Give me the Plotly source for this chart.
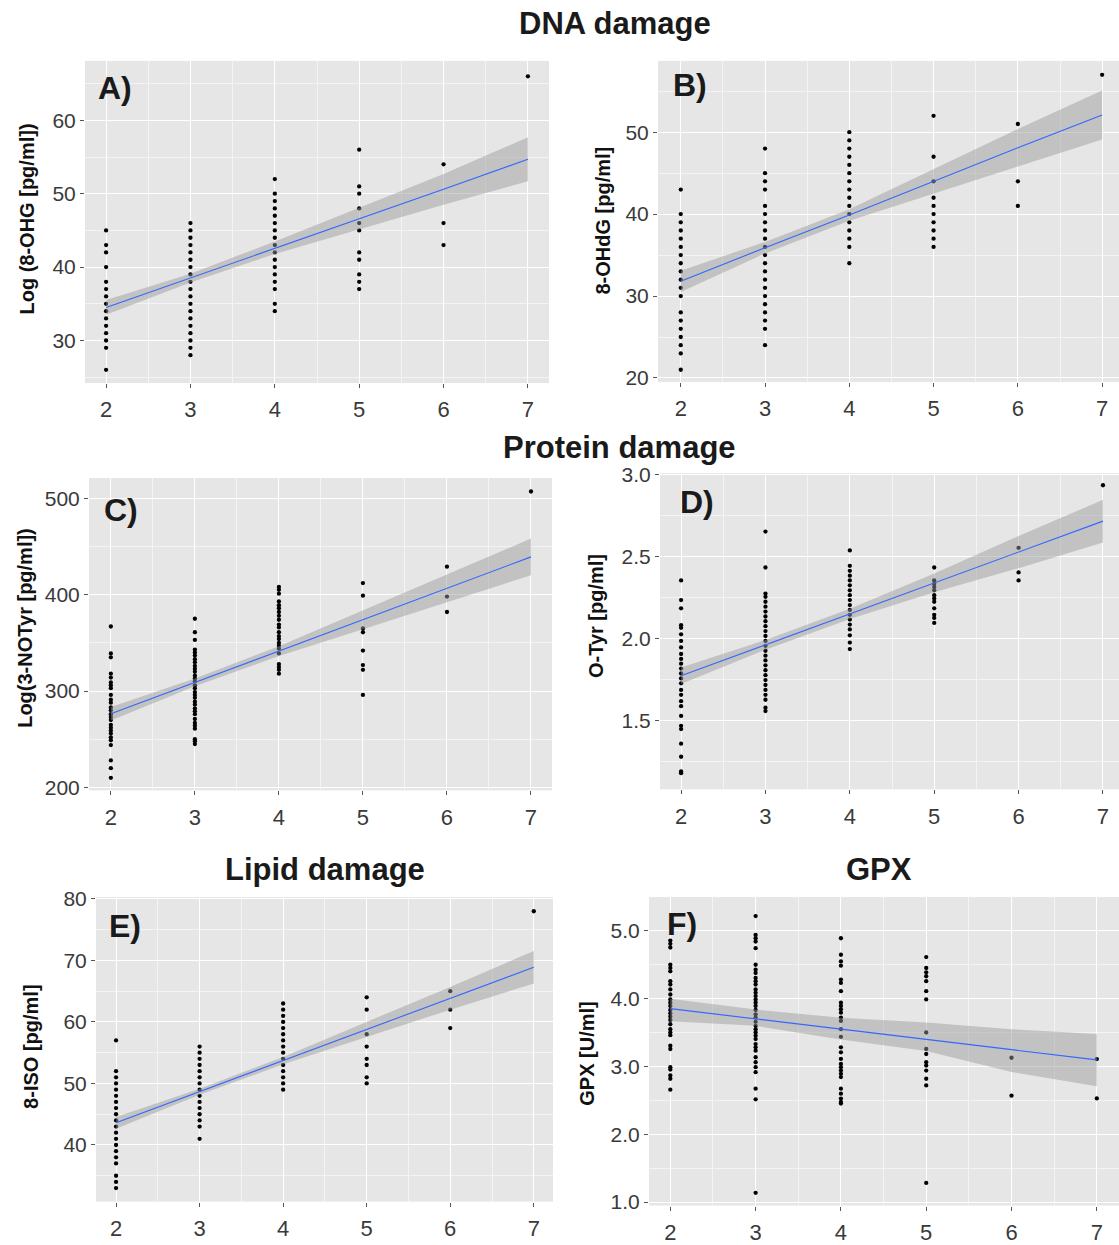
import plotly.graph_objects as go

W, H = 1119, 1245

fit_x = [2, 3, 4, 5, 6, 7]

# ---------------- Panel A: Log (8-OHG [pg/ml]) ----------------
a2 = [45, 43, 42, 40, 38, 37, 36, 35, 34, 33, 32, 31, 30, 29, 26]
a3 = [46, 45, 44, 43, 42, 41, 40, 39, 38, 37, 36, 35, 34, 33, 32, 31, 30, 29, 28]
a4 = [52, 50, 49, 48, 47, 46, 45, 44, 43, 42, 41, 40, 39, 38, 37, 35, 34]
a5 = [56, 51, 50, 48, 46, 45, 42, 41, 39, 38, 37]
a6 = [54, 46, 43]
a7 = [66]
a_fit = [34.5, 38.5, 42.6, 46.6, 50.6, 54.7]
a_lo = [33.5, 37.9, 41.8, 45.1, 48.5, 51.7]
a_hi = [35.5, 39.1, 43.5, 48.1, 52.7, 57.7]

# ---------------- Panel B: 8-OHdG [pg/ml] ----------------
b2 = [43, 40, 39, 38, 37, 36, 35, 34, 33, 32, 31, 30, 28, 27, 26, 25, 24, 23, 21]
b3 = [48, 45, 44, 43, 41, 40, 39, 38, 37, 36, 35, 34, 33, 32, 31, 30, 29, 28, 27, 26, 24]
b4 = [50, 49, 48, 47, 46, 45, 44, 43, 42, 41, 40, 39, 38, 37, 36, 34]
b5 = [52, 47, 44, 42, 41, 40, 39, 38, 37, 36]
b6 = [51, 44, 41]
b7 = [57]
b_fit = [31.8, 35.9, 39.9, 44.0, 48.1, 52.1]
b_lo = [30.5, 35.2, 39.2, 42.5, 45.8, 49.1]
b_hi = [33.1, 36.6, 40.6, 45.5, 50.4, 55.1]

# ---------------- Panel C: Log(3-NOTyr [pg/ml]) ----------------
c2 = [367, 339, 335, 318, 314, 309, 306, 303, 296, 291, 288, 283, 280, 276, 273,
      270, 265, 262, 259, 256, 252, 249, 244, 228, 220, 210]
c3 = [375, 361, 353, 343, 340, 337, 333, 330, 326, 323, 320, 316, 313, 310, 306,
      303, 299, 296, 293, 289, 286, 282, 279, 276, 271, 267, 264, 261, 250, 248, 245]
c4 = [408, 405, 401, 393, 389, 386, 382, 378, 374, 369, 366, 361, 357, 354, 350,
      347, 344, 339, 328, 325, 322, 318]
c5 = [412, 399, 365, 361, 342, 327, 322, 296]
c6 = [429, 398, 382]
c7 = [507]
c_fit = [276.4, 309.0, 341.5, 374.0, 406.6, 439.2]
c_lo = [269.4, 305.0, 336.5, 364.0, 392.0, 420.2]
c_hi = [283.4, 313.0, 346.5, 384.0, 421.0, 458.2]

# ---------------- Panel D: O-Tyr [pg/ml] ----------------
d2 = [2.355, 2.235, 2.185, 2.082, 2.066, 2.026, 1.986, 1.946, 1.906, 1.876, 1.847,
      1.817, 1.787, 1.757, 1.727, 1.687, 1.657, 1.618, 1.588, 1.528, 1.468, 1.448,
      1.359, 1.279, 1.189, 1.179]
d3 = [2.653, 2.434, 2.275, 2.255, 2.225, 2.195, 2.165, 2.135, 2.106, 2.076, 2.046,
      2.016, 1.986, 1.956, 1.926, 1.896, 1.867, 1.837, 1.807, 1.777, 1.747, 1.717,
      1.687, 1.657, 1.627, 1.578, 1.558]
d4 = [2.538, 2.444, 2.414, 2.384, 2.355, 2.325, 2.295, 2.265, 2.235, 2.205, 2.175,
      2.145, 2.116, 2.086, 2.056, 2.020, 1.976, 1.936]
d5 = [2.434, 2.355, 2.335, 2.315, 2.295, 2.265, 2.245, 2.225, 2.185, 2.145, 2.126, 2.096]
d6 = [2.554, 2.404, 2.355]
d7 = [2.936]
d_fit = [1.773, 1.962, 2.151, 2.340, 2.528, 2.717]
d_lo = [1.723, 1.932, 2.120, 2.283, 2.430, 2.587]
d_hi = [1.823, 1.992, 2.182, 2.397, 2.626, 2.847]

# ---------------- Panel E: 8-ISO [pg/ml] ----------------
e2 = [57, 52, 51, 50, 49, 48, 47, 46, 45, 44, 43, 42, 41, 40, 39, 38, 37, 35, 34, 33]
e3 = [56, 55, 54, 53, 52, 51, 50, 49, 48, 47, 46, 45, 44, 43, 41]
e4 = [63, 62, 61, 60, 59, 58, 57, 56, 55, 54, 53, 52, 51, 50, 49]
e5 = [64, 62, 58, 56, 54, 53, 51, 50]
e6 = [65, 62, 59]
e7 = [78]
e_fit = [43.6, 48.66, 53.72, 58.78, 63.84, 68.9]
e_lo = [42.65, 48.16, 53.12, 57.6, 62.0, 66.25]
e_hi = [44.55, 49.16, 54.32, 59.95, 65.7, 71.55]

# ---------------- Panel F: GPX [U/ml] ----------------
f2 = [4.859, 4.810, 4.756, 4.502, 4.454, 4.405, 4.259, 4.210, 4.137, 4.063, 3.990,
      3.941, 3.893, 3.834, 3.785, 3.737, 3.688, 3.624, 3.551, 3.502, 3.463, 3.307,
      3.259, 2.990, 2.956, 2.868, 2.820, 2.659]
f3 = [5.220, 4.941, 4.893, 4.844, 4.746, 4.502, 4.429, 4.380, 4.307, 4.259, 4.210,
      4.137, 4.088, 4.039, 3.990, 3.941, 3.893, 3.834, 3.771, 3.722, 3.659, 3.600,
      3.551, 3.502, 3.454, 3.405, 3.332, 3.283, 3.234, 3.137, 3.063, 2.990, 2.917,
      2.673, 2.517, 1.137]
f4 = [4.893, 4.649, 4.551, 4.488, 4.283, 4.234, 4.112, 3.941, 3.893, 3.844, 3.795,
      3.722, 3.673, 3.551, 3.439, 3.283, 3.210, 3.112, 3.039, 2.990, 2.941, 2.893,
      2.844, 2.673, 2.600, 2.527, 2.478, 2.454]
f5 = [4.615, 4.454, 4.390, 4.332, 4.259, 4.112, 3.990, 3.502, 3.259, 3.185, 3.063,
      3.015, 2.941, 2.820, 2.722, 1.283]
f6 = [3.13, 2.57]
f7 = [3.11, 2.53]
f_fit = [3.854, 3.703, 3.552, 3.401, 3.249, 3.098]
f_lo = [3.67, 3.60, 3.40, 3.23, 2.92, 2.71]
f_hi = [4.00, 3.84, 3.72, 3.65, 3.55, 3.48]

# ---------------- Text ----------------
section_titles = ["DNA damage", "Protein damage", "Lipid damage", "GPX"]
panel_tags = ["A)", "B)", "C)", "D)", "E)", "F)"]
y_titles = ["Log (8-OHG [pg/ml])", "8-OHdG [pg/ml]", "Log(3-NOTyr [pg/ml])",
            "O-Tyr [pg/ml]", "8-ISO [pg/ml]", "GPX [U/ml]"]
x_ticks = [2, 3, 4, 5, 6, 7]
y_ticks = [[30, 40, 50, 60], [20, 30, 40, 50], [200, 300, 400, 500],
           [1.5, 2.0, 2.5, 3.0], [40, 50, 60, 70, 80], [1.0, 2.0, 3.0, 4.0, 5.0]]
y_minor = [[25, 35, 45, 55, 65], [25, 35, 45, 55], [250, 350, 450],
           [1.25, 1.75, 2.25, 2.75], [35, 45, 55, 65, 75], [1.5, 2.5, 3.5, 4.5]]
y_fmt = ["", "", "", ".1f", "", ".1f"]

groups = [
    [a2, a3, a4, a5, a6, a7],
    [b2, b3, b4, b5, b6, b7],
    [c2, c3, c4, c5, c6, c7],
    [d2, d3, d4, d5, d6, d7],
    [e2, e3, e4, e5, e6, e7],
    [f2, f3, f4, f5, f6, f7],
]
fits = [(a_fit, a_lo, a_hi), (b_fit, b_lo, b_hi), (c_fit, c_lo, c_hi),
        (d_fit, d_lo, d_hi), (e_fit, e_lo, e_hi), (f_fit, f_lo, f_hi)]

# ---------------- Layout geometry (pixels) ----------------
# (left, right, top, bottom) of each plotting panel
boxes = [(85, 549, 52, 381), (658, 1119, 52, 380),
         (89, 552, 478, 797), (660, 1119, 473, 796),
         (96, 553, 906, 1217), (649, 1119, 906, 1221)]
x_ranges = [[1.75, 7.25], [1.73, 7.20], [1.74, 7.25],
            [1.75, 7.19], [1.76, 7.23], [1.75, 7.26]]
y_ranges = [[24.2, 68.1], [19.5, 58.7], [197, 521],
            [1.08, 3.01], [30.8, 80.3], [0.95, 5.5]]

FONT = "Liberation Sans, Arial, Helvetica, sans-serif"
PANEL_BG = "#E6E6E6"

fig = go.Figure()
layout = dict(
    width=W, height=H,
    margin=dict(l=0, r=0, t=0, b=0),
    paper_bgcolor="white", plot_bgcolor=PANEL_BG,
    showlegend=False,
    font=dict(family=FONT, color="#222222"),
)

annotations = []
for i in range(6):
    n = "" if i == 0 else str(i + 1)
    xa, ya = "x" + n, "y" + n
    left, right, top, bottom = boxes[i]

    # points
    xs, ys = [], []
    for xv, vals in zip(x_ticks, groups[i]):
        xs += [xv] * len(vals)
        ys += vals
    fig.add_trace(go.Scatter(x=xs, y=ys, mode="markers", xaxis=xa, yaxis=ya,
                             marker=dict(color="black", size=4.3, line=dict(width=0)),
                             hoverinfo="skip"))
    fy, lo, hi = fits[i]
    # confidence band
    fig.add_trace(go.Scatter(x=fit_x + fit_x[::-1], y=hi + lo[::-1], mode="lines",
                             xaxis=xa, yaxis=ya, fill="toself",
                             fillcolor="rgba(153,153,153,0.47)", line=dict(width=0),
                             hoverinfo="skip"))
    # fitted line
    fig.add_trace(go.Scatter(x=fit_x, y=fy, mode="lines", xaxis=xa, yaxis=ya,
                             line=dict(color="#3366FF", width=1.1), hoverinfo="skip"))

    layout["xaxis" + n] = dict(
        domain=[left / W, right / W], anchor=ya, range=x_ranges[i],
        tickvals=x_ticks, ticktext=[str(v) for v in x_ticks],
        ticks="outside", ticklen=4, tickwidth=1, tickcolor="#555555",
        ticklabelstandoff=3,
        tickfont=dict(size=22, color="#3A3A3A", family=FONT),
        showgrid=True, gridcolor="white", gridwidth=1.4,
        minor=dict(tickvals=[2.5, 3.5, 4.5, 5.5, 6.5], showgrid=True,
                   gridcolor="#F4F4F4", gridwidth=0.7, ticks=""),
        zeroline=False, showline=False, fixedrange=True,
    )
    layout["yaxis" + n] = dict(
        domain=[1 - bottom / H, 1 - top / H], anchor=xa, range=y_ranges[i],
        tickvals=y_ticks[i], tickformat=y_fmt[i],
        ticks="outside", ticklen=4, tickwidth=1, tickcolor="#555555",
        tickfont=dict(size=21, color="#3A3A3A", family=FONT),
        showgrid=True, gridcolor="white", gridwidth=1.4,
        minor=dict(tickvals=y_minor[i], showgrid=True,
                   gridcolor="#F4F4F4", gridwidth=0.7, ticks=""),
        zeroline=False, showline=False, fixedrange=True,
    )

# panel tags
tag_pos = [(115, 80), (690, 77), (121, 511), (697, 502), (125, 936), (682, 934)]
for t, (px, py) in zip(panel_tags, tag_pos):
    annotations.append(dict(text="<b>%s</b>" % t, x=px / W, y=1 - py / H,
                            xref="paper", yref="paper", showarrow=False,
                            xanchor="center", yanchor="middle",
                            font=dict(size=32, color="#1A1A1A", family=FONT)))

# y-axis titles
ytitle_pos = [(27, 214), (603, 215), (25, 631), (596, 619), (31, 1059), (587, 1066)]
for t, (px, py) in zip(y_titles, ytitle_pos):
    annotations.append(dict(text="<b>%s</b>" % t, x=px / W, y=1 - py / H,
                            xref="paper", yref="paper", showarrow=False,
                            textangle=-90, xanchor="center", yanchor="middle",
                            font=dict(size=20, color="#111111", family=FONT)))

# section titles
sec_pos = [(615, 14), (619, 447), (325, 878), (879, 878)]
for t, (px, py) in zip(section_titles, sec_pos):
    annotations.append(dict(text="<b>%s</b>" % t, x=px / W, y=1 - py / H,
                            xref="paper", yref="paper", showarrow=False,
                            xanchor="center", yanchor="middle",
                            font=dict(size=31, color="#1A1A1A", family=FONT)))

layout["annotations"] = annotations
fig.update_layout(**layout)

fig.write_html(
    "out.html",
    config={"displayModeBar": False},
    post_script="document.body.style.margin='0px';document.body.style.overflow='hidden';",
)
